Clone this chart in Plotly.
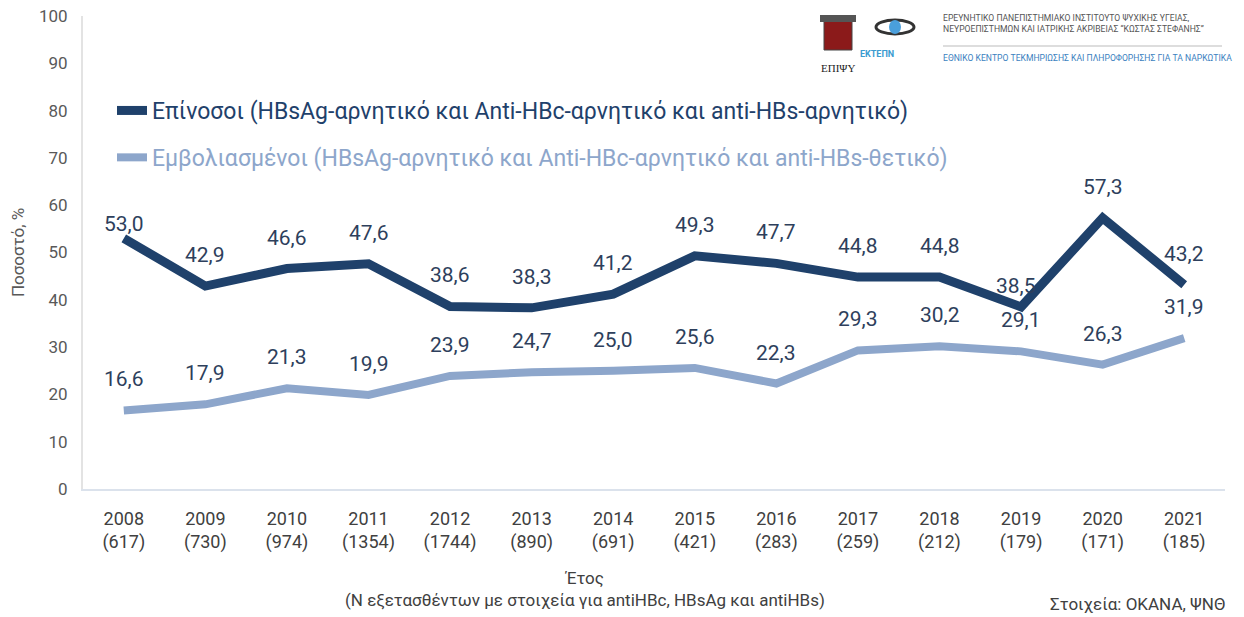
import plotly.graph_objects as go

years = ["2008", "2009", "2010", "2011", "2012", "2013", "2014", "2015", "2016", "2017", "2018", "2019", "2020", "2021"]
n_tested = ["617", "730", "974", "1354", "1744", "890", "691", "421", "283", "259", "212", "179", "171", "185"]
susceptible = [53.0, 42.9, 46.6, 47.6, 38.6, 38.3, 41.2, 49.3, 47.7, 44.8, 44.8, 38.5, 57.3, 43.2]
vaccinated = [16.6, 17.9, 21.3, 19.9, 23.9, 24.7, 25.0, 25.6, 22.3, 29.3, 30.2, 29.1, 26.3, 31.9]

name_susc = "Επίνοσοι (HBsAg-αρνητικό και Anti-HBc-αρνητικό και anti-HBs-αρνητικό)"
name_vacc = "Εμβολιασμένοι (HBsAg-αρνητικό και Anti-HBc-αρνητικό και anti-HBs-θετικό)"

DARK = "#1f416b"
LIGHT = "#8da6cb"
LABEL = "#2e3f5c"
FONT = "Roboto, Liberation Sans Narrow, sans-serif"

L, R, T, B = 83, 1225, 16, 489
W, H = R - L, B - T

def px(x):
    return (x - L) / W

def py(y):
    return (B - y) / H

cats = [f"{y}<br>({n})" for y, n in zip(years, n_tested)]

fig = go.Figure()
fig.add_trace(go.Scatter(
    x=cats, y=susceptible, mode="lines",
    line=dict(color=DARK, width=9),
    name=f"<span style='color:{DARK}'>{name_susc}</span>",
    legendgroup="a",
))
fig.add_trace(go.Scatter(
    x=cats, y=vaccinated, mode="lines",
    line=dict(color=LIGHT, width=8),
    name=f"<span style='color:{LIGHT}'>{name_vacc}</span>",
    legendgroup="b",
))

def fmt(v):
    return f"{v:.1f}".replace(".", ",")

annotations = []
for i, (c, v) in enumerate(zip(cats, susceptible)):
    shift = 31
    xs = 0
    if i == 0:
        shift = 14
    if i == 11:
        shift = 21
        xs = -5
    annotations.append(dict(x=c, y=v, text=fmt(v), showarrow=False, yshift=shift, xshift=xs,
                            font=dict(size=21, color=LABEL, family=FONT)))
for c, v in zip(cats, vaccinated):
    annotations.append(dict(x=c, y=v, text=fmt(v), showarrow=False, yshift=31,
                            font=dict(size=21, color=LABEL, family=FONT)))

# axis title and source
annotations.append(dict(xref="paper", yref="paper", x=px(585), y=py(566), yanchor="top", showarrow=False,
                        text="Έτος<br>(Ν εξετασθέντων με στοιχεία για antiHBc, HBsAg και antiHBs)",
                        font=dict(size=17, color="#404040", family=FONT)))
annotations.append(dict(xref="paper", yref="paper", x=px(1228), y=py(604), xanchor="right", yanchor="middle",
                        showarrow=False, text="Στοιχεία: ΟΚΑΝΑ, ΨΝΘ",
                        font=dict(size=17, color="#404040", family=FONT)))

# header logos text
hdr = dict(xref="paper", yref="paper", showarrow=False, xanchor="left", yanchor="middle", align="left")
annotations.append(dict(**hdr, x=px(941), y=py(24),
                        text="ΕΡΕΥΝΗΤΙΚΟ ΠΑΝΕΠΙΣΤΗΜΙΑΚΟ ΙΝΣΤΙΤΟΥΤΟ ΨΥΧΙΚΗΣ ΥΓΕΙΑΣ,<br>ΝΕΥΡΟΕΠΙΣΤΗΜΩΝ ΚΑΙ ΙΑΤΡΙΚΗΣ ΑΚΡΙΒΕΙΑΣ “ΚΩΣΤΑΣ ΣΤΕΦΑΝΗΣ”",
                        font=dict(size=8.6, color="#555555", family=FONT)))
annotations.append(dict(**hdr, x=px(941), y=py(58),
                        text="ΕΘΝΙΚΟ ΚΕΝΤΡΟ ΤΕΚΜΗΡΙΩΣΗΣ ΚΑΙ ΠΛΗΡΟΦΟΡΗΣΗΣ ΓΙΑ ΤΑ ΝΑΡΚΩΤΙΚΑ",
                        font=dict(size=8.6, color="#3b7fc0", family=FONT)))
annotations.append(dict(xref="paper", yref="paper", showarrow=False, x=px(838), y=py(60),
                        text="ΕΠΙΨΥ", font=dict(size=11, color="#222222", family="Liberation Serif, serif")))
annotations.append(dict(xref="paper", yref="paper", showarrow=False, x=px(896), y=py(47),
                        text="<b>ΕΚΤΕΠΝ</b>", font=dict(size=9, color="#3b9bd0", family=FONT)))

shapes = [
    dict(type="line", xref="paper", yref="paper", x0=px(943), x1=px(1222),
         y0=py(46), y1=py(46), line=dict(color="#bbbbbb", width=1)),
    # pillar logo
    dict(type="rect", xref="paper", yref="paper", x0=px(824), x1=px(852),
         y0=py(50), y1=py(16), line=dict(color="#444444", width=1), fillcolor="#8b1a1a"),
    dict(type="rect", xref="paper", yref="paper", x0=px(820), x1=px(856),
         y0=py(22), y1=py(15), line=dict(width=0), fillcolor="#555555"),
    # ektepn logo
    dict(type="circle", xref="paper", yref="paper", x0=px(876), x1=px(914),
         y0=py(34), y1=py(20), line=dict(color="#333333", width=3)),
    dict(type="circle", xref="paper", yref="paper", x0=px(889), x1=px(901),
         y0=py(34), y1=py(20), line=dict(width=0), fillcolor="#4a9fdc"),
]

fig.update_layout(
    width=1244, height=617,
    margin=dict(l=L, r=1244 - R, t=T, b=617 - B, autoexpand=False),
    plot_bgcolor="white", paper_bgcolor="white",
    font=dict(family=FONT, color="#595959"),
    showlegend=True,
    legend=dict(x=px(112), y=py(89), xanchor="left", yanchor="top",
                font=dict(size=23, family=FONT), tracegroupgap=14,
                bgcolor="rgba(0,0,0,0)"),
    xaxis=dict(showgrid=False, showline=True, linecolor="#dbe2ec", linewidth=2, automargin=False,
               range=[-0.5, len(cats) - 0.5], ticklabelstandoff=12,
               ticks="", tickfont=dict(size=18, color="#404040", family=FONT)),
    yaxis=dict(range=[0, 100], dtick=10, showgrid=False, zeroline=False, automargin=False,
               showline=True, linecolor="#e3e3e3", linewidth=2, ticks="",
               tickfont=dict(size=17, color="#595959", family=FONT),
               ticklabelstandoff=10,
               title=dict(text="Ποσοστό, %", font=dict(size=17, color="#595959", family=FONT), standoff=10)),
    annotations=annotations,
    shapes=shapes,
)

fig.write_html("out.html", config={"displayModeBar": False},
               post_script="document.body.style.margin='0';document.body.style.overflow='hidden';")
